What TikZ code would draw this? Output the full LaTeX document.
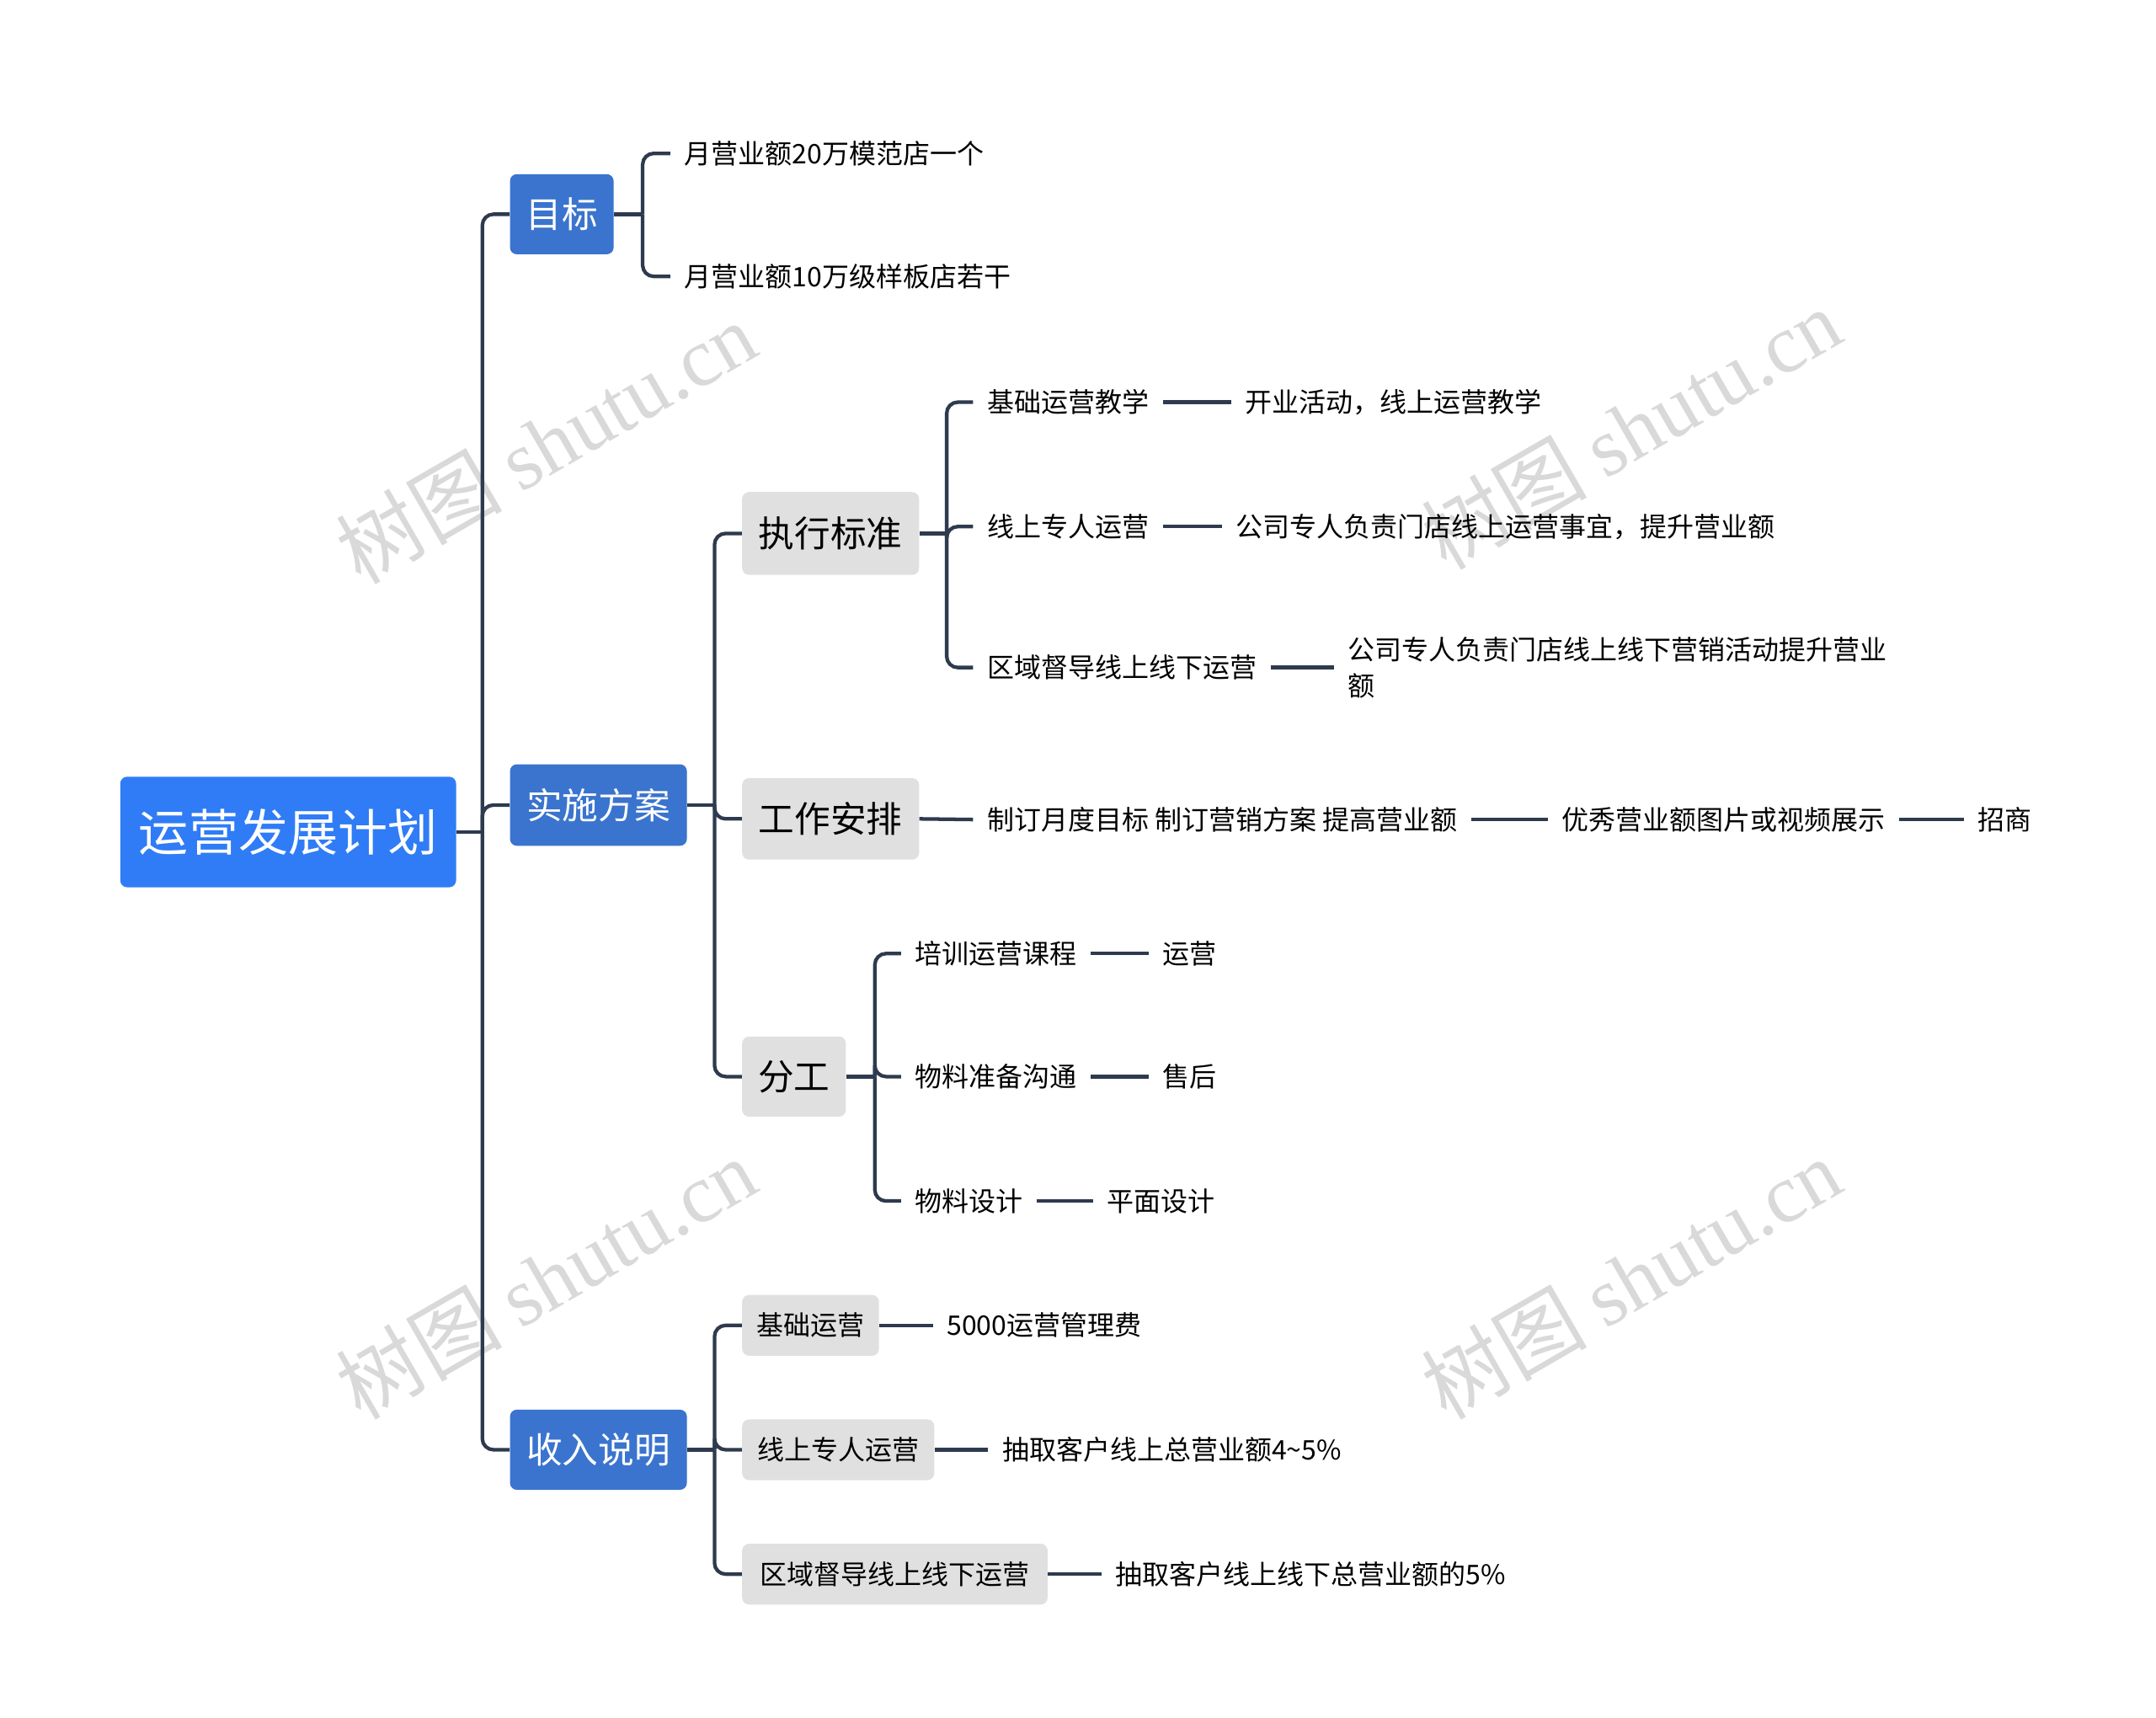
\documentclass[tikz,border=0pt]{standalone}
\usepackage{fontspec}
\setmainfont{Noto Sans CJK SC}
\newfontfamily\wmserif{Liberation Serif}
\begin{document}
\begin{tikzpicture}[x=1pt,y=1pt,
  rootbox/.style={fill={rgb,255:red,47;green,124;blue,246}, text=white, rounded corners=5pt, font=\fontsize{36}{40}\selectfont},
  lonebox/.style={fill={rgb,255:red,58;green,116;blue,206}, text=white, rounded corners=5pt, font=\fontsize{26}{30}\selectfont, inner sep=0},
  ltwobox/.style={fill={rgb,255:red,224;green,224;blue,224}, text=black, rounded corners=5pt, font=\fontsize{26}{30}\selectfont, inner sep=0},
  smallbox/.style={fill={rgb,255:red,224;green,224;blue,224}, text=black, rounded corners=5pt, font=\fontsize{19.5}{24}\selectfont, inner sep=0},
  leaf/.style={anchor=west, inner xsep=10pt, inner ysep=2pt, font=\fontsize{19.5}{24}\selectfont},
  wm/.style={text=black!15, rotate=30, font=\fontsize{60}{64}\selectfont}
]
\useasboundingbox (0,0) rectangle (1560,-1243);
\fill[white] (0,0) rectangle (1560,-1243);
\definecolor{lc}{RGB}{46,58,78}

% watermarks
\foreach \x/\y in {395/320, 1180/310, 395/925, 1180/925}
  \node[wm] at (\x,-\y) {树图 {\wmserif shutu.cn}};

% boxes
\node[rootbox, minimum width=243pt, minimum height=80pt, inner sep=0] (root) at (208.5,-602) {运营发展计划};
\node[lonebox, minimum width=75pt, minimum height=58pt] (mb) at (406.5,-155) {目标};
\node[lonebox, minimum width=128pt, minimum height=59pt] (ss) at (433,-582.5) {实施方案};
\node[lonebox, minimum width=128pt, minimum height=58pt] (sr) at (433,-1049) {收入说明};

\node[ltwobox, minimum width=128pt, minimum height=60pt] (zx) at (601,-386) {执行标准};
\node[ltwobox, minimum width=128pt, minimum height=59pt] (gz) at (601,-592.5) {工作安排};
\node[ltwobox, minimum width=75pt, minimum height=58pt] (fg) at (574.5,-779) {分工};

\node[smallbox, minimum width=99pt, minimum height=44pt] (jc) at (586.5,-959) {基础运营};
\node[smallbox, minimum width=139pt, minimum height=44pt] (xs) at (606.5,-1049) {线上专人运营};
\node[smallbox, minimum width=221pt, minimum height=44pt] (qy) at (647.5,-1139) {区域督导线上线下运营};

% leaves
\node[leaf] (m1) at (485,-111) {月营业额20万模范店一个};
\node[leaf] (m2) at (485,-200) {月营业额10万级样板店若干};

\node[leaf] (z1) at (704,-291) {基础运营教学};
\node[leaf] (z1b) at (891,-291) {开业活动，线上运营教学};
\node[leaf] (z2) at (704,-381) {线上专人运营};
\node[leaf] (z2b) at (884,-381) {公司专人负责门店线上运营事宜，提升营业额};
\node[leaf] (z3) at (704,-483) {区域督导线上线下运营};
\node[leaf, align=left, font=\fontsize{19.5}{26}\selectfont] (z3b) at (965,-483) {公司专人负责门店线上线下营销活动提升营业\\额};

\node[leaf] (g1) at (704,-593) {制订月度目标 制订营销方案 提高营业额};
\node[leaf] (g2) at (1120,-593) {优秀营业额图片或视频展示};
\node[leaf] (g3) at (1421,-593) {招商};

\node[leaf] (f1) at (652,-690) {培训运营课程};
\node[leaf] (f1b) at (831,-690) {运营};
\node[leaf] (f2) at (652,-779) {物料准备沟通};
\node[leaf] (f2b) at (831,-779) {售后};
\node[leaf] (f3) at (652,-869) {物料设计};
\node[leaf] (f3b) at (791,-869) {平面设计};

\node[leaf] (s1) at (675,-959) {5000运营管理费};
\node[leaf] (s2) at (715,-1049) {抽取客户线上总营业额4\textasciitilde5\%};
\node[leaf] (s3) at (797,-1139) {抽取客户线上线下总营业额的5\%};

% connectors
\tikzset{c/.style={draw=lc, line width=2.6pt, rounded corners=8pt}}
\coordinate (r0) at (349,-602);
\draw[c] (root.east) -- (r0);
\foreach \n in {mb,ss,sr} \draw[c] (r0) |- (\n.west);

\coordinate (mj) at (465,-155);
\draw[c] (mb.east) -- (mj);
\foreach \n in {m1,m2} \draw[c] (mj) |- (\n.west);

\coordinate (sj) at (517,-582.5);
\draw[c] (ss.east) -- (sj);
\foreach \n in {zx,gz,fg} \draw[c] (sj) |- (\n.west);

\coordinate (zj) at (685,-386);
\draw[c] (zx.east) -- (zj);
\foreach \n in {z1,z2,z3} \draw[c] (zj) |- (\n.west);
\draw[c] (z1.east) -- (z1b.west);
\draw[c] (z2.east) -- (z2b.west);
\draw[c] (z3.east) -- (z3b.west);

\draw[c] (gz.east) -- (g1.west);
\draw[c] (g1.east) -- (g2.west);
\draw[c] (g2.east) -- (g3.west);

\coordinate (fj) at (633,-779);
\draw[c] (fg.east) -- (fj);
\foreach \n in {f1,f2,f3} \draw[c] (fj) |- (\n.west);
\draw[c] (f1.east) -- (f1b.west);
\draw[c] (f2.east) -- (f2b.west);
\draw[c] (f3.east) -- (f3b.west);

\coordinate (rj) at (517,-1049);
\draw[c] (sr.east) -- (rj);
\foreach \n in {jc,xs,qy} \draw[c] (rj) |- (\n.west);
\draw[c] (jc.east) -- (s1.west);
\draw[c] (xs.east) -- (s2.west);
\draw[c] (qy.east) -- (s3.west);
\end{tikzpicture}
\end{document}
